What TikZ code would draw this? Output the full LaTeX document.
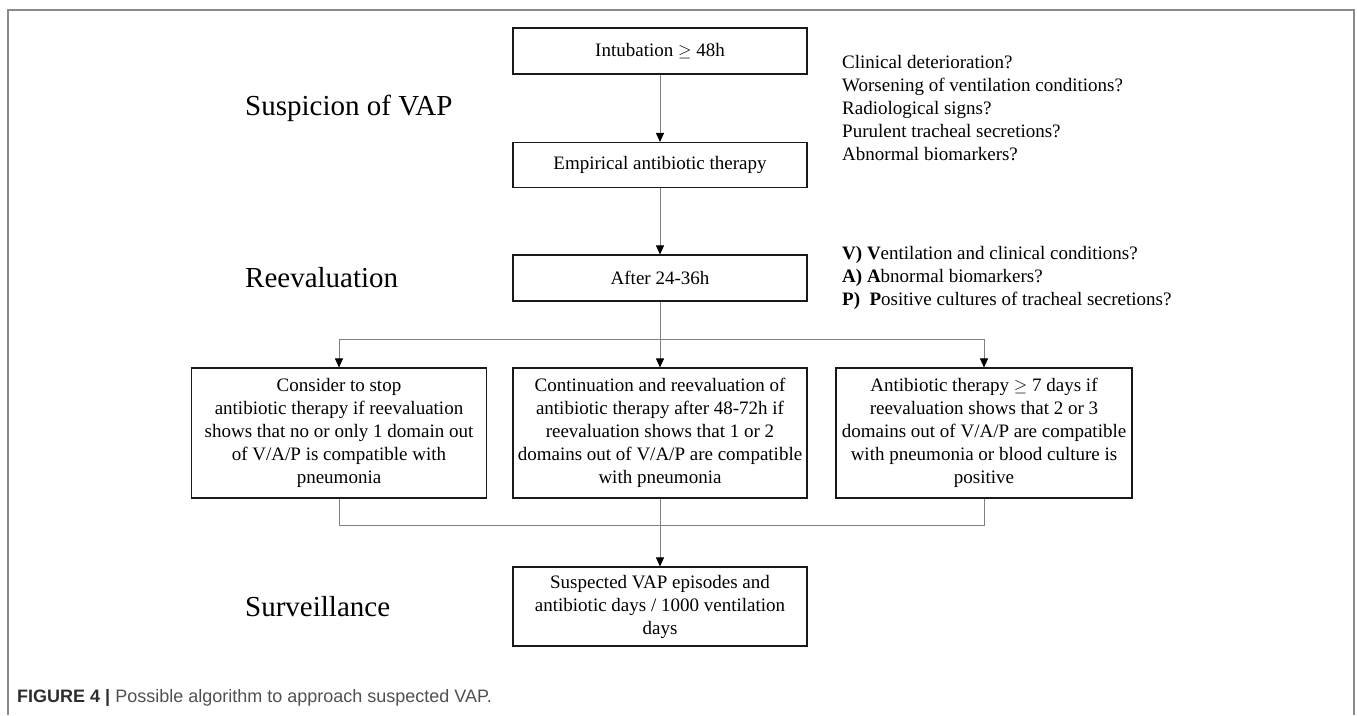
\documentclass[tikz,border=0pt]{standalone}
\usepackage{fontspec}
\setmainfont{Liberation Serif}
\setsansfont{Liberation Sans}
\usetikzlibrary{arrows.meta}
\definecolor{framegray}{HTML}{8A8A8A}
\definecolor{conngray}{HTML}{808080}
\definecolor{capdark}{HTML}{2E2E2E}
\definecolor{capgray}{HTML}{505050}
\begin{document}
\begin{tikzpicture}[x=1pt,y=-1pt,
  every node/.style={font=\fontsize{19}{23}\selectfont, inner sep=0pt},
  box/.style={draw=black!90, line width=1.1pt, align=center, minimum width=294pt},
  heading/.style={font=\fontsize{29}{34}\selectfont, anchor=west},
  side/.style={anchor=west, align=left},
  conn/.style={draw=conngray, line width=0.9pt},
  arr/.style={conn, -{Triangle[width=8pt,length=9pt,color=black]}}
]
\useasboundingbox (0,0) rectangle (1357,715);
% frame
\draw[framegray, line width=2pt] (8,715) -- (8,10) -- (1354,10) -- (1354,715);

% headings
\node[heading] (hs) at (245,108) {Suspicion of VAP};
\node[heading] (hr) at (245,278) {Reevaluation};
\node[heading] (hv) at (245,607) {Surveillance};

% main column
\node[box, minimum height=46pt] (b1) at (660,51) {Intubation $\geq$ 48h};
\node[box, minimum height=45pt] (b2) at (660,165) {Empirical antibiotic therapy};
\node[box, minimum height=46pt] (b3) at (660,278) {After 24-36h};

% side texts
\node[side] (q1) at (842,108) {Clinical deterioration?\\Worsening of ventilation conditions?\\Radiological signs?\\Purulent tracheal secretions?\\Abnormal biomarkers?};
\node[side] (q2) at (842,278) {\textbf{V) V}entilation and clinical conditions?\\\textbf{A) A}bnormal biomarkers?\\\textbf{P)\ \ P}ositive cultures of tracheal secretions?};

% bottom row
\node[box, minimum width=295pt, minimum height=130pt] (bl) at (339,433) {Consider to stop\\antibiotic therapy if reevaluation\\shows that no or only 1 domain out\\of V/A/P is compatible with\\pneumonia};
\node[box, minimum height=130pt] (bm) at (660,433) {Continuation and reevaluation of\\antibiotic therapy after 48-72h if\\reevaluation shows that 1 or 2\\domains out of V/A/P are compatible\\with pneumonia};
\node[box, minimum width=296pt, minimum height=130pt] (br) at (984,433) {Antibiotic therapy $\geq$ 7 days if\\reevaluation shows that 2 or 3\\domains out of V/A/P are compatible\\with pneumonia or blood culture is\\positive};

% surveillance box
\node[box, minimum height=79pt] (sv) at (660,606.5) {Suspected VAP episodes and\\antibiotic days / 1000 ventilation\\days};

% connectors
\coordinate (split) at (660,339);
\coordinate (join) at (660,525);
\draw[arr] (b1) -- (b2);
\draw[arr] (b2) -- (b3);
\draw[conn] (b3) -- (split);
\draw[arr] (split) -| (bl.north);
\draw[arr] (split) -- (bm);
\draw[arr] (split) -| (br.north);
\draw[conn] (bl.south) |- (join);
\draw[conn] (br.south) |- (join);
\draw[conn] (bm.south) -- (join);
\draw[arr] (join) -- (sv);

% caption
\node[anchor=west, font=\sffamily\fontsize{18}{21}\selectfont] (cap) at (17,698) {\textcolor{capdark}{\textbf{FIGURE 4 |}} \textcolor{capgray}{Possible algorithm to approach suspected VAP.}};
\end{tikzpicture}
\end{document}
